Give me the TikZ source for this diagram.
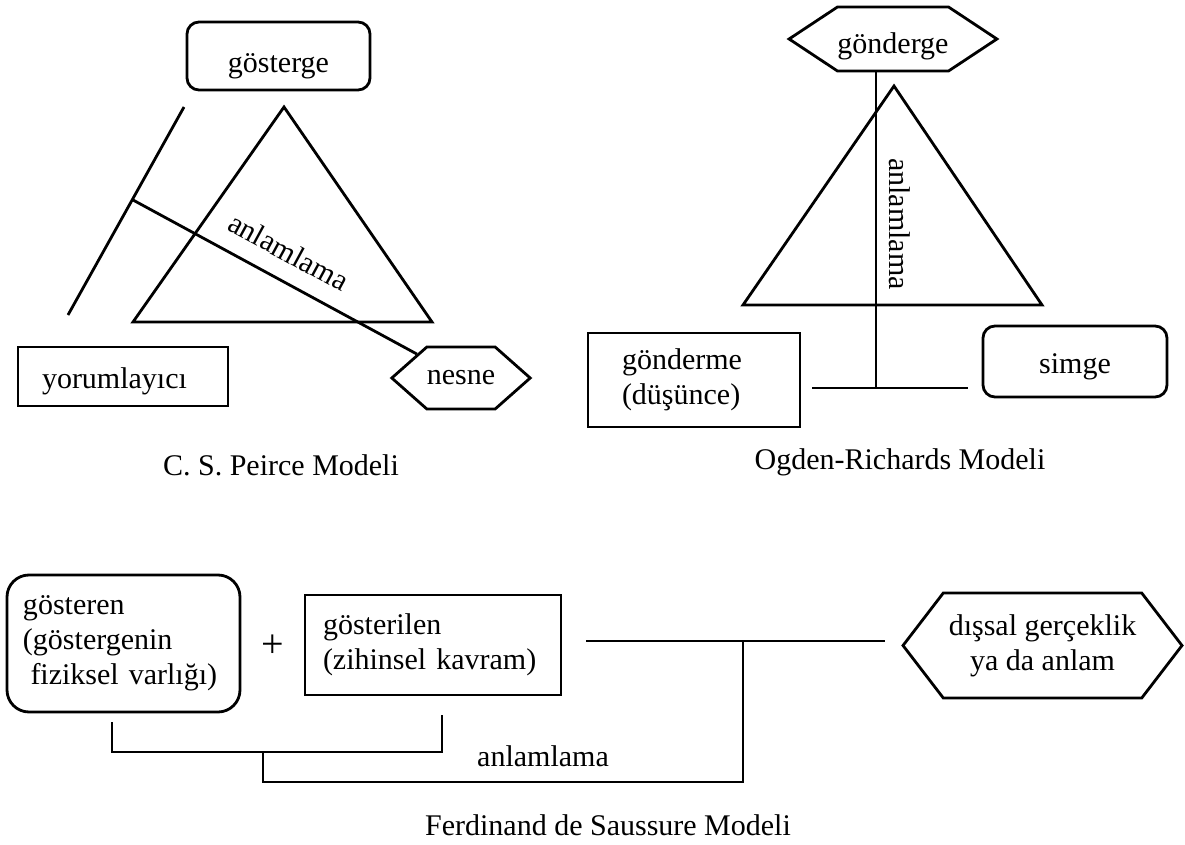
\documentclass[tikz,border=0pt]{standalone}
\usepackage{fontspec}
\setmainfont{Liberation Serif}
\usepackage{tikz}
\usetikzlibrary{shapes,positioning}
\newcommand{\bigfont}{\fontsize{30}{35}\selectfont}
\tikzstyle{box} = [rectangle, draw=black, line width=2.8pt, font=\bigfont, align=left, inner sep=0pt]
\tikzstyle{rbox} = [box, rounded corners=12pt]
\tikzstyle{hexa} = [signal, signal to=west and east, draw=black, line width=2.8pt, font=\bigfont, align=center, inner sep=0pt]
\tikzstyle{lbl} = [font=\bigfont, inner sep=2pt]
\tikzstyle{modelcap} = [font=\bigfont, inner sep=0pt]
\tikzstyle{link} = [draw, line width=2.8pt]

\begin{document}
\begin{tikzpicture}[x=1pt, y=-1pt]
\path[fill=white, use as bounding box] (0,0) rectangle (1185,845);

% C. S. Peirce =============================
\node[rbox, minimum width=183pt, minimum height=68pt, text height=34pt, text depth=0pt] (gosterge) at (278.5,56) {gösterge};
\coordinate (pTop) at (284,107);
\coordinate (pLeft) at (133,322);
\coordinate (pRight) at (432,322);
\draw[link] (pTop) -- (pLeft) -- (pRight) -- cycle;
\coordinate (yTop) at (184,107);
\coordinate (yBot) at (68,315);
\coordinate (aStart) at (133,200);
\node[hexa, minimum width=130pt, minimum height=62pt, signal pointer angle=83] (nesne) at (461,378) {nesne};
\node[box, text width=162pt, inner xsep=24pt, minimum height=59pt, text height=24pt, text depth=0pt] (yorum) at (123,376.5) {yorumlayıcı};
\node[modelcap] (capP) at (281,465) {C. S. Peirce Modeli};

% edges
\path[link] (yTop) edge (yBot);
\path[link] (aStart) edge node[lbl, sloped, above, inner ysep=17pt, pos=0.5] {anlamlama} (nesne);

% Ogden-Richards ===========================
\node[hexa, minimum width=186pt, minimum height=64pt, signal pointer angle=67, text height=30pt, text depth=0pt] (gonderge) at (893,39) {gönderge};
\coordinate (oTop) at (894,86);
\coordinate (oLeft) at (743,305);
\coordinate (oRight) at (1042,305);
\draw[link] (oTop) -- (oLeft) -- (oRight) -- cycle;
\coordinate (oMid) at (876,388);
\coordinate (oL) at (812,388);
\coordinate (oR) at (968,388);
\node[box, text width=144pt, inner xsep=34pt, minimum height=94pt] (gonderme) at (694,380) {gönderme\\(düşünce)};
\node[rbox, minimum width=184pt, minimum height=71pt, text height=23pt, text depth=0pt] (simge) at (1075,361.5) {simge};
\node[modelcap] (capO) at (900,462) {Ogden-Richards Modeli};

% edges
\path[link] (gonderge.south -| oMid) edge node[lbl, rotate=-90, pos=0.48, anchor=south, inner ysep=12pt] {anlamlama} (oMid);
\path[link] (oL) edge (oR);

% Saussure =================================
\node[rbox, rounded corners=22pt, text width=201pt, inner xsep=16pt, minimum height=137pt] (gosteren) at (123.5,643.5) {gösteren\\(göstergenin\\\hspace*{0.25em}fiziksel varlığı)};
\node[box, text width=220pt, inner xsep=18pt, minimum height=100pt] (gosterilen) at (433,645) {gösterilen\\(zihinsel kavram)};
\node[lbl, font=\fontsize{40}{40}\selectfont] (plus) at (273,646) {+};
\node[hexa, minimum width=279pt, minimum height=105pt, signal pointer angle=105] (dissal) at (1042.5,645.5) {dışsal gerçeklik\\ya da anlam};
\coordinate (b1) at (112,722);
\coordinate (b2) at (442,715);
\coordinate (bBot) at (263,752);
\coordinate (c1) at (743,782);
\coordinate (hL) at (586,641);
\coordinate (hR) at (885,641);
\node[lbl] (anlS) at (543,756) {anlamlama};
\node[modelcap] (capS) at (608,825) {Ferdinand de Saussure Modeli};

% edges
\draw[link] (b1) |- (bBot) -| (b2);
\draw[link] (bBot) |- (c1) -- (c1 |- hL);
\path[link] (hL) edge (hR);

\end{tikzpicture}
\end{document}
